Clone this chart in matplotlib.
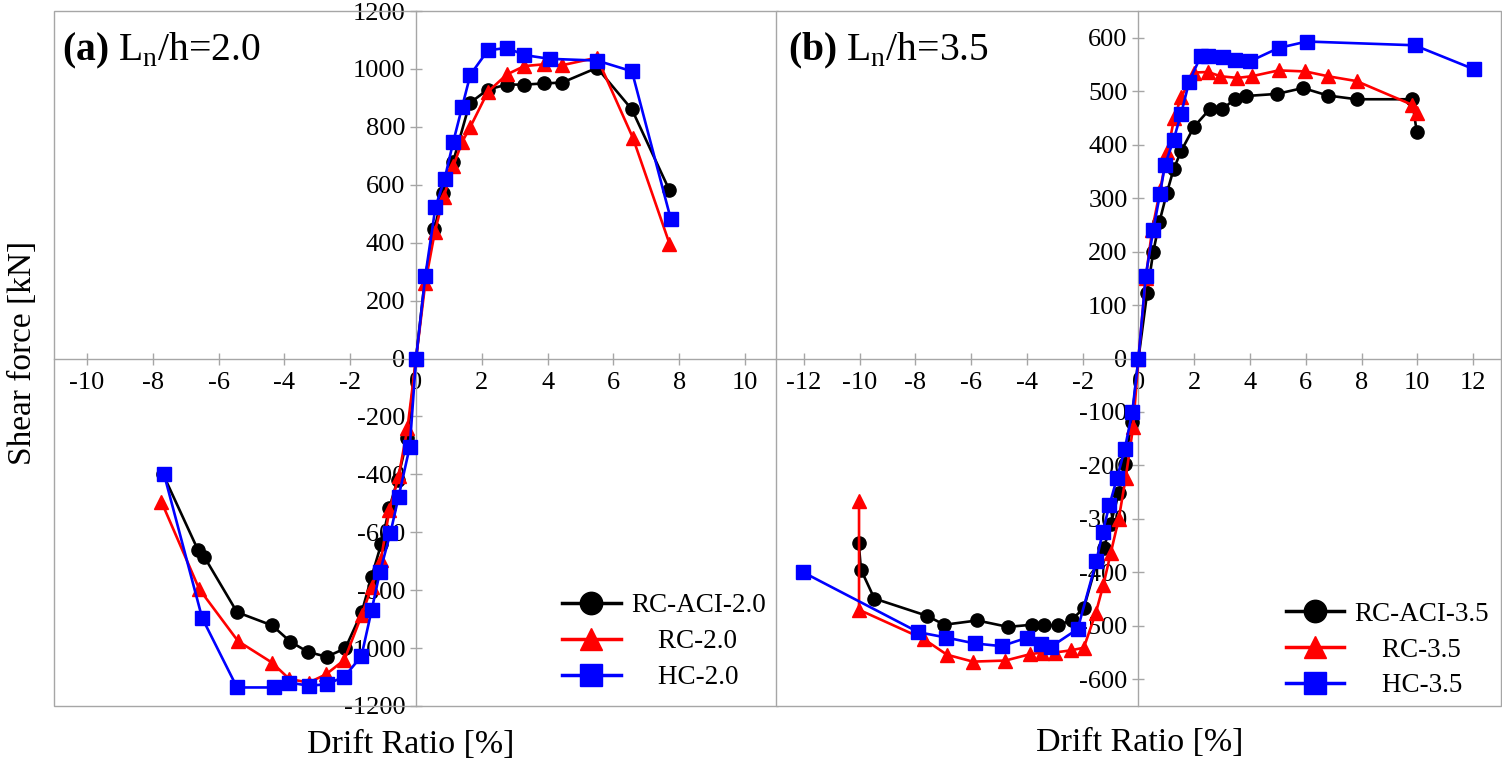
import matplotlib
matplotlib.use('Agg')
import matplotlib.pyplot as plt
from matplotlib.patches import Rectangle

plt.rcParams['font.family'] = 'Liberation Serif'
plt.rcParams['mathtext.fontset'] = 'custom'
plt.rcParams['mathtext.rm'] = 'Liberation Serif'
plt.rcParams['mathtext.bf'] = 'Liberation Serif:bold'
plt.rcParams['axes.unicode_minus'] = False

# ---- panel (a) Ln/h=2.0 : envelope curves, negative end -> origin -> positive end ----
aci20_x = [-7.69, -6.62, -6.44, -5.44, -4.37, -3.82, -3.29, -2.72, -2.15, -1.65, -1.35, -1.06, -0.81, -0.56, -0.26, 0,
           0.28, 0.56, 0.82, 1.12, 1.63, 2.18, 2.76, 3.29, 3.88, 4.44, 5.5, 6.56, 7.7]
aci20_y = [-399, -663, -684, -876, -922, -978, -1013, -1030, -1001, -876, -753, -641, -515, -419, -273, 0,
           285, 448, 572, 677, 882, 929, 946, 946, 950, 953, 1004, 860, 581]

rc20_x = [-7.74, -6.59, -5.41, -4.38, -3.85, -3.26, -2.74, -2.18, -1.65, -1.35, -1.07, -0.81, -0.53, -0.26, 0,
          0.28, 0.57, 0.84, 1.13, 1.4, 1.65, 2.18, 2.76, 3.29, 3.88, 4.44, 5.5, 6.59, 7.7]
rc20_y = [-494, -796, -976, -1050, -1107, -1119, -1091, -1041, -886, -788, -696, -523, -407, -240, 0,
          260, 437, 558, 664, 748, 800, 921, 981, 1010, 1016, 1013, 1039, 762, 397]

hc20_x = [-7.66, -6.5, -5.44, -4.31, -3.85, -3.26, -2.72, -2.18, -1.66, -1.35, -1.1, -0.78, -0.53, -0.19, 0,
          0.28, 0.59, 0.87, 1.13, 1.4, 1.65, 2.18, 2.76, 3.29, 4.06, 5.5, 6.56, 7.74]
hc20_y = [-399, -896, -1136, -1136, -1119, -1130, -1125, -1099, -1028, -869, -738, -603, -477, -304, 0,
          284, 523, 621, 748, 869, 980, 1064, 1073, 1048, 1035, 1029, 992, 482]

# ---- panel (b) Ln/h=3.5 ----
aci35_x = [-10.03, -9.95, -9.47, -7.6, -6.96, -5.78, -4.68, -3.81, -3.38, -2.87, -2.4, -1.96, -1.48, -1.24, -0.99, -0.71, -0.49, -0.24, 0,
           0.31, 0.53, 0.75, 1.02, 1.26, 1.53, 2.0, 2.55, 3.0, 3.47, 3.84, 4.97, 5.9, 6.79, 7.82, 9.81, 9.98]
aci35_y = [-346, -395, -449, -481, -498, -490, -502, -498, -499, -499, -489, -467, -379, -355, -309, -252, -197, -118, 0,
           122, 199, 255, 310, 354, 388, 434, 466, 466, 486, 491, 495, 506, 492, 485, 485, 424]

rc35_x = [-10.02, -10.02, -7.69, -6.87, -5.94, -4.77, -3.88, -3.45, -3.01, -2.43, -1.96, -1.53, -1.26, -0.99, -0.71, -0.46, -0.19, 0,
          0.26, 0.49, 0.78, 1.04, 1.28, 1.53, 2.0, 2.5, 2.94, 3.55, 4.06, 5.03, 5.99, 6.8, 7.82, 9.8, 10.0]
rc35_y = [-266, -470, -525, -554, -567, -565, -553, -550, -550, -546, -541, -476, -424, -363, -301, -224, -128, 0,
          150, 240, 316, 386, 449, 489, 535, 536, 528, 525, 528, 539, 537, 528, 519, 475, 459]

hc35_x = [-12.02, -7.89, -6.89, -5.87, -4.91, -3.98, -3.5, -3.13, -2.18, -1.51, -1.28, -1.04, -0.77, -0.49, -0.22, 0,
          0.26, 0.53, 0.77, 0.95, 1.26, 1.53, 1.82, 2.23, 2.48, 3.03, 3.47, 4.0, 5.03, 6.04, 9.9, 12.04]
hc35_y = [-400, -512, -522, -533, -538, -522, -534, -539, -506, -379, -324, -274, -224, -169, -100, 0,
          154, 240, 307, 362, 409, 458, 518, 565, 565, 564, 559, 556, 581, 593, 586, 541]

labels_a = ["RC-ACI-2.0", "    RC-2.0", "    HC-2.0"]
labels_b = ["RC-ACI-3.5", "    RC-3.5", "    HC-3.5"]
xticks_a = list(range(-10, 11, 2))
yticks_a = list(range(-1200, 1201, 200))
xticks_b = list(range(-12, 13, 2))
yticks_b = list(range(-600, 601, 100))

GREY = '#a6a6a6'
styles = [('black', 'o', 9.5), ('red', '^', 9.5), ('blue', 's', 9.5)]


def draw_panel(ax, curves, labels, xticks, yticks, xlim, ylim, title, title_x, leg_anchor):
	# curves is a list of (x, y) pairs, drawn with the black/red/blue styles
	for (x, y), (c, m, ms), lab in zip(curves, styles, labels):
		ax.plot(x, y, color=c, marker=m, markersize=ms, linewidth=1.9, label=lab, zorder=3)

	ax.set_xlim(*xlim)
	ax.set_ylim(*ylim)
	ax.set_xticks(xticks)
	ax.set_yticks(yticks)

	# axes crossing at the origin, plus a plain grey frame
	ax.spines['left'].set_position(('data', 0))
	ax.spines['bottom'].set_position(('data', 0))
	ax.spines['top'].set_visible(False)
	ax.spines['right'].set_visible(False)
	for s in ('left', 'bottom'):
		ax.spines[s].set_color(GREY)
		ax.spines[s].set_linewidth(1.0)
		ax.spines[s].set_zorder(1)
	ax.add_patch(Rectangle((0, 0), 1, 1, transform=ax.transAxes, fill=False,
						   edgecolor=GREY, linewidth=1.0, clip_on=False, zorder=1))
	ax.set_axisbelow(True)
	ax.tick_params(axis='both', direction='inout', length=8.6, width=1.0, color=GREY, labelsize=19)
	ax.tick_params(axis='x', pad=5.5)
	ax.tick_params(axis='y', pad=3.5)

	ax.text(title_x, 0.9295, title, transform=ax.transAxes, fontsize=28.5, va='baseline', ha='left')

	leg = ax.legend(loc='upper left', bbox_to_anchor=leg_anchor, frameon=False, fontsize=19.5,
					handlelength=2.15, handletextpad=0.4, labelspacing=0.4,
					borderpad=0, borderaxespad=0, markerscale=1.7)
	for line in leg.get_lines():
		line.set_linewidth(2.5)


fig = plt.figure(figsize=(15.02, 7.62), dpi=100)
ax1 = fig.add_axes([0.036, 0.0735, 0.482, 0.912])
ax2 = fig.add_axes([0.5166, 0.0735, 0.4827, 0.912])

draw_panel(ax1, [(aci20_x, aci20_y), (rc20_x, rc20_y), (hc20_x, hc20_y)], labels_a,
		   xticks_a, yticks_a, (-11, 11), (-1200, 1200),
		   r"$\mathbf{(a)}$ L$_\mathregular{n}$/h=2.0", 0.011, (0.702, 0.162))
draw_panel(ax2, [(aci35_x, aci35_y), (rc35_x, rc35_y), (hc35_x, hc35_y)], labels_b,
		   xticks_b, yticks_b, (-13, 13), (-650, 650),
		   r"$\mathbf{(b)}$ L$_\mathregular{n}$/h=3.5", 0.016, (0.703, 0.150))

fig.text(0.0153, 0.537, "Shear force [kN]", rotation=90, fontsize=24, ha='center', va='center')
fig.text(0.2737, 0.0118, "Drift Ratio [%]", fontsize=24.5, ha='center', va='baseline')
fig.text(0.759, 0.015, "Drift Ratio [%]", fontsize=24.5, ha='center', va='baseline')

fig.savefig('out.png', dpi=100)
